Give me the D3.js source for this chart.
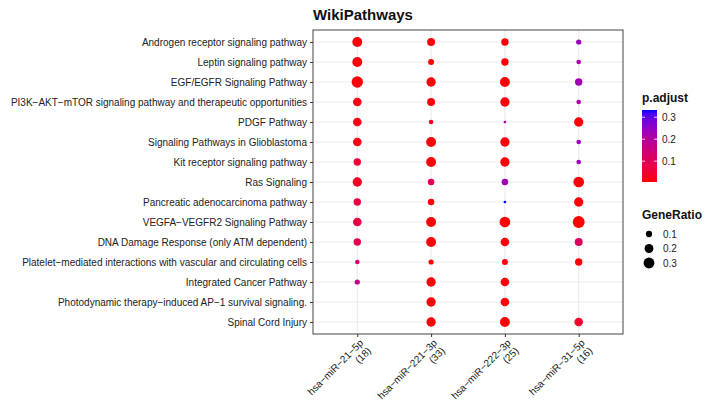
<!DOCTYPE html>
<html>
<head>
<meta charset="utf-8">
<script src="https://cdn.jsdelivr.net/npm/d3@7"></script>
<style>
  body { margin: 0; background: #fff; }
  text { font-family: "Liberation Sans", Arial, sans-serif; }
</style>
</head>
<body>
<svg id="chart" width="711" height="409"></svg>
<script>
const pathways = [
  'Androgen receptor signaling pathway',
  'Leptin signaling pathway',
  'EGF/EGFR Signaling Pathway',
  'PI3K\u2212AKT\u2212mTOR signaling pathway and therapeutic opportunities',
  'PDGF Pathway',
  'Signaling Pathways in Glioblastoma',
  'Kit receptor signaling pathway',
  'Ras Signaling',
  'Pancreatic adenocarcinoma pathway',
  'VEGFA\u2212VEGFR2 Signaling Pathway',
  'DNA Damage Response (only ATM dependent)',
  'Platelet\u2212mediated interactions with vascular and circulating cells',
  'Integrated Cancer Pathway',
  'Photodynamic therapy\u2212induced AP\u22121 survival signaling.',
  'Spinal Cord Injury'
];

const mirnas = ['hsa\u2212miR\u221221\u22125p', 'hsa\u2212miR\u2212221\u22123p', 'hsa\u2212miR\u2212222\u22123p', 'hsa\u2212miR\u221231\u22125p'];
const mirnaCounts = [18, 33, 25, 16];

// rows = pathways, columns = mirnas (null = not enriched)
const geneRatio = [
  [0.25, 0.16, 0.14, 0.07],
  [0.25, 0.09, 0.14, 0.055],
  [0.33, 0.22, 0.25, 0.14],
  [0.19, 0.16, 0.22, 0.055],
  [0.19, 0.055, 0.018, 0.22],
  [0.19, 0.25, 0.22, 0.055],
  [0.14, 0.25, 0.22, 0.055],
  [0.22, 0.11, 0.11, 0.29],
  [0.14, 0.11, 0.018, 0.22],
  [0.19, 0.25, 0.29, 0.36],
  [0.14, 0.25, 0.19, 0.16],
  [0.055, 0.07, 0.09, 0.14],
  [0.07, 0.22, 0.19, null],
  [null, 0.22, 0.19, null],
  [null, 0.22, 0.25, 0.19]
];

const pAdjust = [
  [0.01, 0.01, 0.01, 0.24],
  [0.01, 0.01, 0.01, 0.22],
  [0.01, 0.01, 0.01, 0.23],
  [0.015, 0.01, 0.01, 0.21],
  [0.015, 0.03, 0.22, 0.01],
  [0.015, 0.01, 0.01, 0.24],
  [0.05, 0.01, 0.01, 0.24],
  [0.03, 0.1, 0.23, 0.01],
  [0.07, 0.01, 0.333, 0.01],
  [0.07, 0.005, 0.005, 0.005],
  [0.08, 0.01, 0.01, 0.11],
  [0.13, 0.01, 0.01, 0.01],
  [0.17, 0.01, 0.01, null],
  [null, 0.01, 0.01, null],
  [null, 0.01, 0.01, 0.04]
];

const colorTicks = [0.1, 0.2, 0.3];
const sizeTicks = [0.1, 0.2, 0.3];

const svg = d3.select('#chart');
const panel = { left: 313, right: 623, top: 30, bottom: 334 };

const x = d3.scalePoint().domain(mirnas).range([panel.left, panel.right]).padding(0.6);
const y = d3.scalePoint().domain(pathways).range([panel.top, panel.bottom]).padding(0.6);

const pMin = 0.005, pMax = 0.333;
const color = d3.scaleLinear().domain([pMin, pMax]).range(['#ff0000', '#0000ff']).interpolate(d3.interpolateLab);
const radius = d3.scaleSqrt().domain([0, 0.32]).range([0, 5.6]);

// flatten into points
const points = [];
pathways.forEach((p, i) => {
  mirnas.forEach((m, j) => {
    if (geneRatio[i][j] != null) {
      points.push({ pathway: p, mirna: m, ratio: geneRatio[i][j], padj: pAdjust[i][j] });
    }
  });
});

// panel background + grid
svg.append('rect')
  .attr('x', panel.left).attr('y', panel.top)
  .attr('width', panel.right - panel.left).attr('height', panel.bottom - panel.top)
  .attr('fill', '#fff');

svg.append('g').selectAll('line')
  .data(pathways)
  .join('line')
  .attr('x1', panel.left).attr('x2', panel.right)
  .attr('y1', d => y(d)).attr('y2', d => y(d))
  .attr('stroke', '#ebebeb').attr('stroke-width', 1.1);

svg.append('g').selectAll('line')
  .data(mirnas)
  .join('line')
  .attr('y1', panel.top).attr('y2', panel.bottom)
  .attr('x1', d => x(d)).attr('x2', d => x(d))
  .attr('stroke', '#ebebeb').attr('stroke-width', 1.1);

// dots
svg.append('g').selectAll('circle')
  .data(points)
  .join('circle')
  .attr('cx', d => x(d.mirna))
  .attr('cy', d => y(d.pathway))
  .attr('r', d => radius(d.ratio))
  .attr('fill', d => color(d.padj));

svg.append('rect')
  .attr('x', panel.left).attr('y', panel.top)
  .attr('width', panel.right - panel.left).attr('height', panel.bottom - panel.top)
  .attr('fill', 'none').attr('stroke', '#555').attr('stroke-width', 1.1);

// y axis
const yAxis = svg.append('g')
  .attr('transform', `translate(${panel.left},0)`)
  .call(d3.axisLeft(y).tickSize(3).tickPadding(3));
yAxis.select('.domain').remove();
yAxis.selectAll('.tick line').attr('stroke', '#333');
yAxis.selectAll('.tick text')
  .attr('fill', '#222')
  .style('font-size', '10px')
  .style('font-family', '"Liberation Sans", Arial, sans-serif');

// x axis
const xAxis = svg.append('g')
  .attr('transform', `translate(0,${panel.bottom})`)
  .call(d3.axisBottom(x).tickSize(3).tickFormat(''));
xAxis.select('.domain').remove();
xAxis.selectAll('.tick line').attr('stroke', '#333');

const xl = svg.append('g').selectAll('text')
  .data(mirnas)
  .join('text')
  .attr('transform', d => `translate(${x(d) + 1},${panel.bottom + 4}) rotate(-45)`)
  .attr('text-anchor', 'end')
  .attr('fill', '#222')
  .style('font-size', '10px');
xl.append('tspan').attr('x', 0).attr('dy', '0.8em').text(d => d);
xl.append('tspan').attr('x', 0).attr('dy', '1.1em').text((d, i) => `(${mirnaCounts[i]})`);

// title
svg.append('text')
  .attr('x', panel.left).attr('y', 20)
  .attr('font-weight', 'bold')
  .style('font-size', '15px')
  .attr('fill', '#111')
  .text('WikiPathways');

// colour legend
const cb = { x: 642, w: 15, top: 110, bottom: 182 };
const cy = d3.scaleLinear().domain([pMin, pMax]).range([cb.bottom, cb.top]);
const grad = svg.append('defs').append('linearGradient')
  .attr('id', 'padjGrad').attr('x1', 0).attr('x2', 0).attr('y1', 1).attr('y2', 0);
grad.selectAll('stop')
  .data(d3.range(0, 1.0001, 0.05))
  .join('stop')
  .attr('offset', d => d)
  .attr('stop-color', d => color(pMin + d * (pMax - pMin)));

svg.append('text')
  .attr('x', cb.x).attr('y', 102)
  .attr('font-weight', 'bold').style('font-size', '12px').attr('fill', '#111')
  .text('p.adjust');

svg.append('rect')
  .attr('x', cb.x).attr('y', cb.top)
  .attr('width', cb.w).attr('height', cb.bottom - cb.top)
  .attr('fill', 'url(#padjGrad)');

const ct = svg.append('g').selectAll('g').data(colorTicks).join('g');
ct.append('line')
  .attr('x1', cb.x).attr('x2', cb.x + 3)
  .attr('y1', d => cy(d)).attr('y2', d => cy(d))
  .attr('stroke', '#fff').attr('stroke-opacity', 0.8);
ct.append('line')
  .attr('x1', cb.x + cb.w - 3).attr('x2', cb.x + cb.w)
  .attr('y1', d => cy(d)).attr('y2', d => cy(d))
  .attr('stroke', '#fff').attr('stroke-opacity', 0.8);
ct.append('text')
  .attr('x', cb.x + cb.w + 5).attr('y', d => cy(d) + 3.5)
  .style('font-size', '10px').attr('fill', '#222')
  .text(d => d.toFixed(1));

// size legend
svg.append('text')
  .attr('x', cb.x).attr('y', 219)
  .attr('font-weight', 'bold').style('font-size', '12px').attr('fill', '#111')
  .text('GeneRatio');

const sy = d3.scalePoint().domain(sizeTicks).range([234, 263]);
const sl = svg.append('g').selectAll('g').data(sizeTicks).join('g');
sl.append('circle')
  .attr('cx', 649).attr('cy', d => sy(d))
  .attr('r', d => radius(d)).attr('fill', '#000');
sl.append('text')
  .attr('x', 663).attr('y', d => sy(d) + 3.5)
  .style('font-size', '10px').attr('fill', '#222')
  .text(d => d.toFixed(1));
</script>
</body>
</html>
